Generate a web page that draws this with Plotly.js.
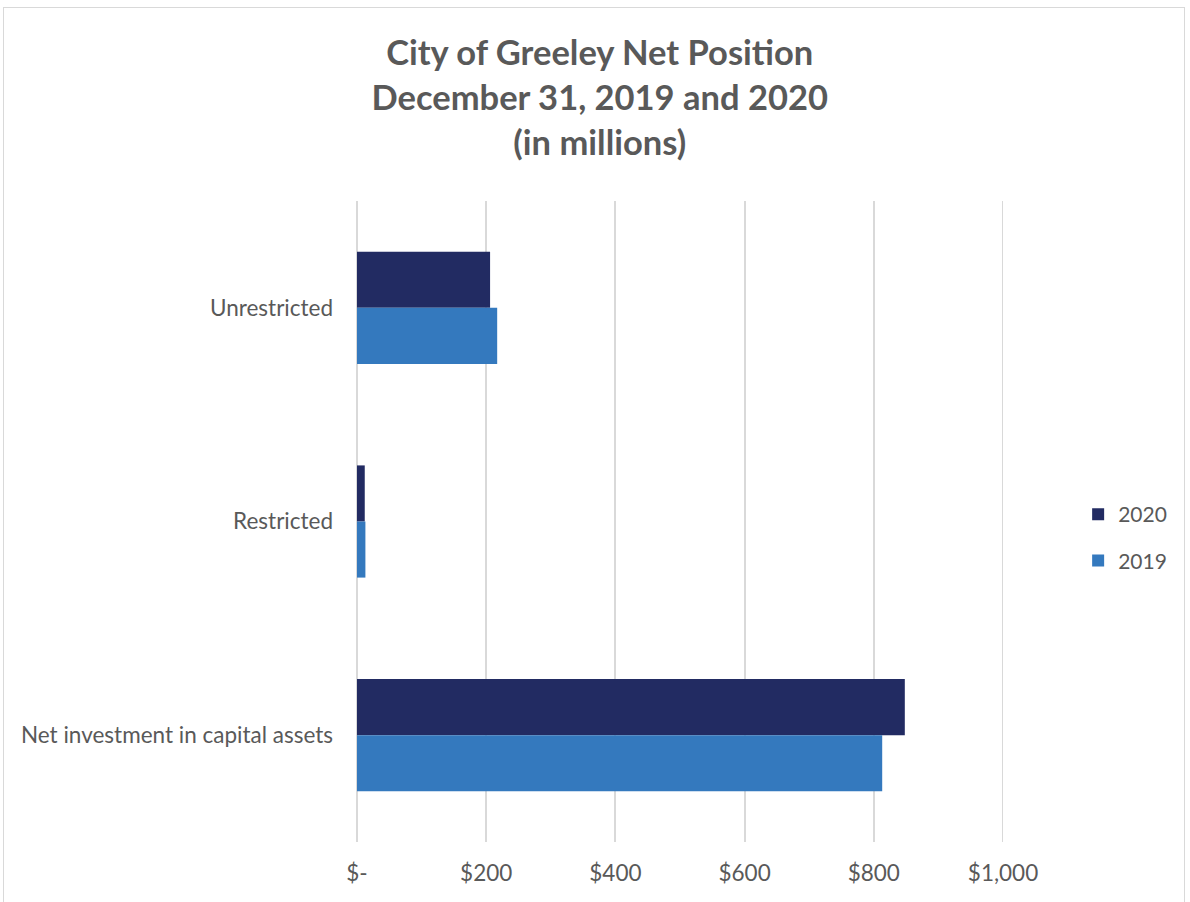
<!DOCTYPE html>
<html>
<head>
<meta charset="utf-8">
<script src="https://cdn.plot.ly/plotly-3.0.1.min.js"></script>
<style>
  html, body { margin: 0; padding: 0; background: #ffffff; }
  #wrap { position: relative; width: 1190px; height: 902px; }
  #chart { position: absolute; left: 0; top: 0; width: 1190px; height: 902px; }
  #frame { position: absolute; left: 3px; top: 7px; width: 1182px; height: 900px;
           border: 1.5px solid #d9d9d9; box-sizing: border-box; pointer-events: none; }
</style>
</head>
<body>
<div id="wrap">
  <div id="chart"></div>
  <div id="frame"></div>
</div>
<script>
// Categories listed top to bottom (y axis is reversed)
const categories = ["Unrestricted", "Restricted", "Net investment in capital assets"];
const values2020 = [206, 12, 848];
const values2019 = [217, 13, 813];
const tickValues = [0, 200, 400, 600, 800, 1000];
const tickLabels = ["$-", "$200", "$400", "$600", "$800", "$1,000"];

const fontFamily = "Lato, 'Open Sans', sans-serif";
const textColor = "#595959";

const traces = [
  {
    type: "bar", orientation: "h", name: "2020",
    y: categories, x: values2020,
    marker: { color: "#222B62" },
    legendgroup: "a",
    hoverinfo: "x+y+name"
  },
  {
    type: "bar", orientation: "h", name: "2019",
    y: categories, x: values2019,
    marker: { color: "#3479BE" },
    legendgroup: "b",
    hoverinfo: "x+y+name"
  }
];

const layout = {
  width: 1190, height: 902,
  paper_bgcolor: "#ffffff", plot_bgcolor: "#ffffff",
  margin: { l: 357, r: 187, t: 201, b: 60 },
  font: { family: fontFamily, color: textColor, size: 22 },
  title: {
    text: "<b>City of Greeley Net Position<br>December 31, 2019 and 2020<br>(in millions)</b>",
    font: { family: fontFamily, size: 34.5, color: textColor },
    x: 0.504, xanchor: "center", xref: "container",
    y: 0.928, yanchor: "middle", yref: "container"
  },
  barmode: "group",
  bargap: 0.475,
  bargroupgap: 0,
  xaxis: {
    range: [0, 1000],
    tickvals: tickValues, ticktext: tickLabels,
    showgrid: true, gridcolor: "#d9d9d9", gridwidth: 2,
    zeroline: true, zerolinecolor: "#d9d9d9", zerolinewidth: 2,
    showline: false,
    ticks: "", ticklabelstandoff: 15,
    tickfont: { family: fontFamily, size: 22.5, color: textColor }
  },
  yaxis: {
    type: "category",
    autorange: "reversed",
    showgrid: false, zeroline: false, showline: false,
    ticks: "", ticklabelstandoff: 23,
    tickfont: { family: fontFamily, size: 22.5, color: textColor }
  },
  shapes: [
    { type: "line", xref: "x", yref: "paper", x0: 1000, x1: 1000, y0: 0, y1: 1,
      line: { color: "#d9d9d9", width: 2 }, layer: "below" }
  ],
  showlegend: true,
  legend: {
    xref: "container", yref: "container",
    x: 0.906, xanchor: "left", y: 0.404, yanchor: "middle",
    traceorder: "grouped", tracegroupgap: 16,
    itemwidth: 30,
    font: { family: fontFamily, size: 21, color: textColor },
    bgcolor: "rgba(0,0,0,0)"
  }
};

Plotly.newPlot("chart", traces, layout, { displayModeBar: false, staticPlot: true });
</script>
</body>
</html>
